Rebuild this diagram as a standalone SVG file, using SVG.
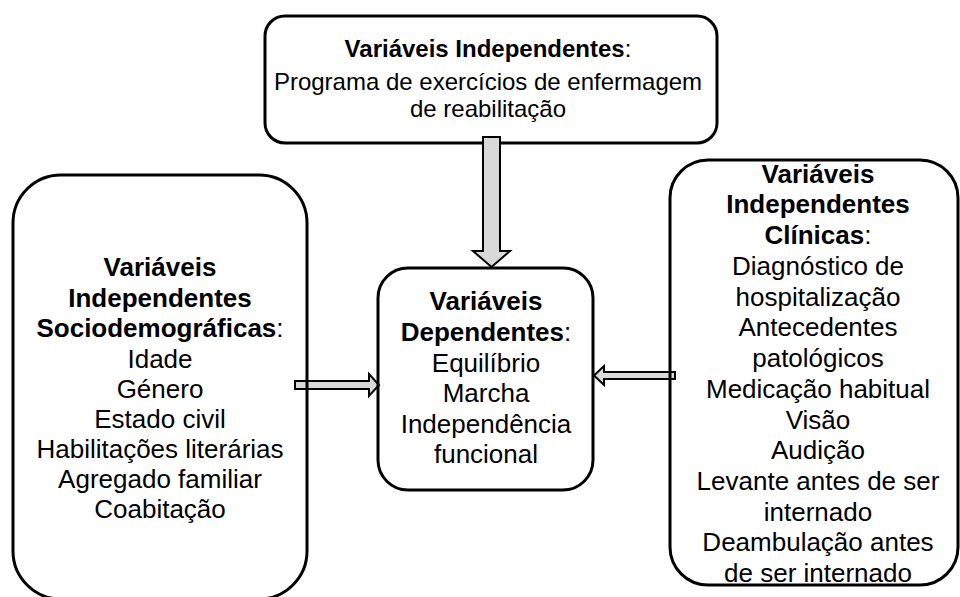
<svg xmlns="http://www.w3.org/2000/svg" width="960" height="597" viewBox="0 0 960 597">
<style>
.box{fill:none;stroke:#000;stroke-width:3}
.arr{fill:#d9d9d9;stroke:#000;stroke-width:2;stroke-linejoin:miter}
text{font-family:"Liberation Sans",Arial,sans-serif;fill:#000;text-anchor:middle}
.t{font-size:24px}
.s{font-size:26px}
.b{font-weight:bold}
</style>
<rect x="0" y="0" width="960" height="597" fill="#fff"/>
<g id="top">
<rect class="box" x="265" y="16" width="452" height="127" rx="20" ry="20"/>
<text class="t" x="488" y="57"><tspan class="b">Variáveis Independentes</tspan>:</text>
<text class="t" x="488" y="90">Programa de exercícios de enfermagem</text>
<text class="t" x="488" y="117">de reabilitação</text>
</g>
<g id="connectors">
<polygon class="arr" points="483,137 500,137 500,251 510,251 491.5,267 473,251 483,251"/>
<polygon class="arr" points="295,381 369,381 369,374 379,385 369,396 369,389 295,389"/>
<polygon class="arr" points="675,372 604,372 604,366 594,375.5 604,385 604,379 675,379"/>
</g>
<g id="left">
<rect class="box" x="13" y="175" width="294" height="424" rx="48" ry="48"/>
<text class="s" x="160" y="276"><tspan class="b">Variáveis</tspan></text>
<text class="s" x="160" y="307"><tspan class="b">Independentes</tspan></text>
<text class="s" x="160" y="337"><tspan class="b">Sociodemográficas</tspan>:</text>
<text class="s" x="160" y="368">Idade</text>
<text class="s" x="160" y="398">Género</text>
<text class="s" x="160" y="428">Estado civil</text>
<text class="s" x="160" y="458">Habilitações literárias</text>
<text class="s" x="160" y="488">Agregado familiar</text>
<text class="s" x="160" y="518">Coabitação</text>
</g>
<g id="center">
<rect class="box" x="378" y="268" width="215" height="222" rx="30" ry="30"/>
<text class="s" x="486" y="310"><tspan class="b">Variáveis</tspan></text>
<text class="s" x="486" y="341"><tspan class="b">Dependentes</tspan>:</text>
<text class="s" x="486" y="372">Equilíbrio</text>
<text class="s" x="486" y="402">Marcha</text>
<text class="s" x="486" y="433">Independência</text>
<text class="s" x="486" y="463">funcional</text>
</g>
<g id="right">
<rect class="box" x="670" y="160" width="288" height="425" rx="38" ry="38"/>
<text class="s" x="818" y="183"><tspan class="b">Variáveis</tspan></text>
<text class="s" x="818" y="213"><tspan class="b">Independentes</tspan></text>
<text class="s" x="818" y="244"><tspan class="b">Clínicas</tspan>:</text>
<text class="s" x="818" y="275">Diagnóstico de</text>
<text class="s" x="818" y="306">hospitalização</text>
<text class="s" x="818" y="336">Antecedentes</text>
<text class="s" x="818" y="367">patológicos</text>
<text class="s" x="818" y="398">Medicação habitual</text>
<text class="s" x="818" y="429">Visão</text>
<text class="s" x="818" y="459">Audição</text>
<text class="s" x="818" y="490">Levante antes de ser</text>
<text class="s" x="818" y="521">internado</text>
<text class="s" x="818" y="551">Deambulação antes</text>
<text class="s" x="818" y="582">de ser internado</text>
</g>
</svg>
